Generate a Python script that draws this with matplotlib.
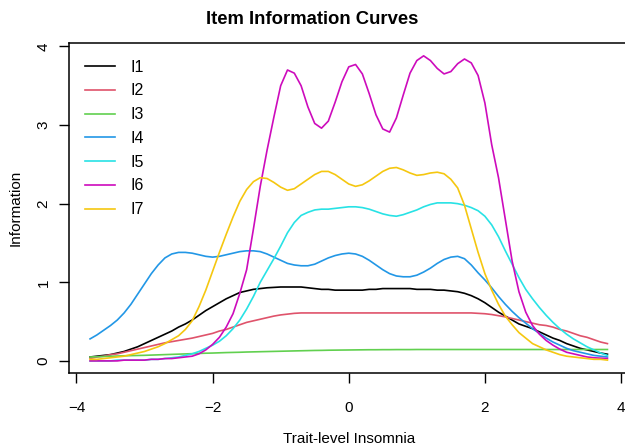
import matplotlib
matplotlib.use('Agg')
import numpy as np
import matplotlib.pyplot as plt

plt.rcParams['font.family'] = ['Liberation Sans', 'DejaVu Sans']

# Trait grid (theta) shared by all curves
theta = [round(-3.8 + 0.1 * i, 1) for i in range(77)]

# Item information values, one per theta point
i1 = [0.05, 0.06, 0.07, 0.08, 0.10, 0.12, 0.15, 0.18, 0.22, 0.26,
      0.30, 0.34, 0.38, 0.43, 0.47, 0.52, 0.58, 0.64, 0.69, 0.74,
      0.79, 0.83, 0.87, 0.89, 0.91, 0.92, 0.93, 0.935, 0.94, 0.94,
      0.94, 0.94, 0.93, 0.92, 0.91, 0.91, 0.90, 0.90, 0.90, 0.90,
      0.90, 0.91, 0.91, 0.92, 0.92, 0.92, 0.92, 0.92, 0.91, 0.91,
      0.91, 0.90, 0.90, 0.89, 0.88, 0.86, 0.83, 0.79, 0.74, 0.68,
      0.62, 0.57, 0.52, 0.47, 0.44, 0.41, 0.37, 0.33, 0.29, 0.26,
      0.22, 0.19, 0.16, 0.14, 0.12, 0.10, 0.085]
i2 = [0.03, 0.05, 0.06, 0.08, 0.09, 0.11, 0.13, 0.15, 0.17, 0.19,
      0.21, 0.23, 0.245, 0.26, 0.275, 0.29, 0.31, 0.33, 0.35, 0.38,
      0.40, 0.43, 0.46, 0.49, 0.51, 0.53, 0.55, 0.57, 0.585, 0.595,
      0.605, 0.61, 0.61, 0.61, 0.61, 0.61, 0.61, 0.61, 0.61, 0.61,
      0.61, 0.61, 0.61, 0.61, 0.61, 0.61, 0.61, 0.61, 0.61, 0.61,
      0.61, 0.61, 0.61, 0.61, 0.61, 0.61, 0.61, 0.605, 0.60, 0.59,
      0.575, 0.56, 0.54, 0.52, 0.50, 0.48, 0.46, 0.45, 0.43, 0.40,
      0.38, 0.35, 0.32, 0.30, 0.27, 0.24, 0.22]
i3 = [0.05, 0.053, 0.056, 0.059, 0.062, 0.065, 0.067, 0.069, 0.071, 0.074,
      0.077, 0.080, 0.083, 0.086, 0.089, 0.092, 0.095, 0.098, 0.100, 0.103,
      0.106, 0.108, 0.110, 0.113, 0.115, 0.117, 0.119, 0.121, 0.123, 0.125,
      0.127, 0.129, 0.131, 0.133, 0.134, 0.136, 0.137, 0.138, 0.139, 0.140,
      0.141, 0.142, 0.142, 0.143, 0.143, 0.144, 0.144, 0.144, 0.145, 0.145,
      0.145, 0.145, 0.145, 0.145, 0.145, 0.145, 0.145, 0.145, 0.145, 0.145,
      0.145, 0.145, 0.145, 0.145, 0.145, 0.145, 0.145, 0.145, 0.145, 0.145,
      0.145, 0.145, 0.145, 0.145, 0.145, 0.145, 0.145]
i4 = [0.28, 0.33, 0.39, 0.45, 0.52, 0.61, 0.72, 0.85, 0.98, 1.11,
      1.22, 1.31, 1.36, 1.38, 1.38, 1.37, 1.35, 1.33, 1.32, 1.33,
      1.35, 1.37, 1.39, 1.40, 1.40, 1.39, 1.36, 1.32, 1.28, 1.24,
      1.22, 1.21, 1.21, 1.23, 1.27, 1.31, 1.34, 1.36, 1.37, 1.36,
      1.33, 1.28, 1.22, 1.16, 1.11, 1.08, 1.07, 1.07, 1.09, 1.13,
      1.18, 1.24, 1.29, 1.32, 1.33, 1.30, 1.22, 1.12, 1.03, 0.93,
      0.82, 0.72, 0.63, 0.55, 0.48, 0.41, 0.35, 0.29, 0.24, 0.20,
      0.16, 0.13, 0.11, 0.09, 0.07, 0.06, 0.05]
i5 = [0.00, 0.00, 0.00, 0.00, 0.01, 0.01, 0.01, 0.01, 0.01, 0.02,
      0.02, 0.03, 0.04, 0.05, 0.07, 0.09, 0.12, 0.16, 0.20, 0.25,
      0.32, 0.41, 0.52, 0.66, 0.82, 1.00, 1.15, 1.30, 1.46, 1.63,
      1.76, 1.85, 1.89, 1.92, 1.93, 1.93, 1.94, 1.95, 1.96, 1.96,
      1.95, 1.93, 1.90, 1.87, 1.85, 1.84, 1.86, 1.89, 1.92, 1.96,
      1.99, 2.01, 2.01, 2.01, 2.00, 1.98, 1.95, 1.91, 1.84, 1.73,
      1.58, 1.40, 1.23, 1.06, 0.91, 0.79, 0.68, 0.58, 0.49, 0.41,
      0.34, 0.28, 0.23, 0.18, 0.14, 0.10, 0.07]
i6 = [0.00, 0.00, 0.00, 0.00, 0.00, 0.01, 0.01, 0.01, 0.01, 0.02,
      0.02, 0.03, 0.03, 0.04, 0.05, 0.06, 0.09, 0.14, 0.21, 0.30,
      0.43, 0.60, 0.86, 1.16, 1.68, 2.22, 2.68, 3.10, 3.50, 3.70,
      3.66, 3.50, 3.23, 3.02, 2.96, 3.05, 3.29, 3.55, 3.74, 3.77,
      3.65, 3.40, 3.13, 2.95, 2.91, 3.09, 3.38, 3.66, 3.82, 3.88,
      3.82, 3.72, 3.65, 3.68, 3.78, 3.84, 3.79, 3.63, 3.28, 2.75,
      2.33, 1.80, 1.27, 0.88, 0.62, 0.45, 0.34, 0.26, 0.20, 0.15,
      0.11, 0.09, 0.07, 0.05, 0.04, 0.035, 0.03]
i7 = [0.02, 0.02, 0.03, 0.04, 0.05, 0.06, 0.08, 0.10, 0.12, 0.15,
      0.18, 0.22, 0.27, 0.32, 0.40, 0.51, 0.69, 0.90, 1.14, 1.38,
      1.61, 1.83, 2.03, 2.18, 2.28, 2.33, 2.32, 2.27, 2.21, 2.17,
      2.19, 2.25, 2.31, 2.37, 2.41, 2.41, 2.37, 2.31, 2.25, 2.22,
      2.24, 2.29, 2.35, 2.41, 2.45, 2.46, 2.43, 2.39, 2.36, 2.37,
      2.39, 2.40, 2.38, 2.31, 2.20, 1.98, 1.68, 1.38, 1.11, 0.90,
      0.72, 0.57, 0.46, 0.36, 0.29, 0.22, 0.18, 0.14, 0.11, 0.08,
      0.06, 0.05, 0.04, 0.03, 0.02, 0.02, 0.01]

items = ['I1', 'I2', 'I3', 'I4', 'I5', 'I6', 'I7']
curves = [i1, i2, i3, i4, i5, i6, i7]
# R 4.x default palette
colors = ['#000000', '#DF536B', '#61D04F', '#2297E6', '#28E2E5', '#CD0BBC', '#F5C710']

fig = plt.figure(figsize=(6.25, 4.46), dpi=100)
ax = fig.add_axes([0.111, 0.164, 0.894, 0.739])

for name, vals, col in zip(items, curves, colors):
	ax.plot(theta, vals, '-', color=col, lw=1.2, label=name)

ax.set_xlim(-4.104, 4.104)
ax.set_ylim(-0.152, 4.04)
ax.set_xticks([-4, -2, 0, 2, 4])
ax.set_yticks([0, 1, 2, 3, 4])
ax.set_yticklabels(['0', '1', '2', '3', '4'], rotation=90, va='center')
ax.tick_params(direction='out', length=7.5, width=1, labelsize=11)
ax.tick_params(axis='x', pad=13)
ax.tick_params(axis='y', pad=6)

for s in ax.spines.values():
	s.set_linewidth(1.1)

ax.set_xlabel('Trait-level Insomnia', fontsize=11, labelpad=12)
ax.set_ylabel('Information', fontsize=11, labelpad=10)
fig.suptitle('Item Information Curves', fontsize=13.3, fontweight='bold', y=0.975)

# Legend without box, as in base R with bty="n"
ax.legend(loc='upper left', bbox_to_anchor=(0.0166, 0.970), frameon=False,
	fontsize=11.5, handlelength=1.9, handletextpad=0.94, labelspacing=0.55, borderaxespad=0)

plt.savefig('out.png', dpi=100)
